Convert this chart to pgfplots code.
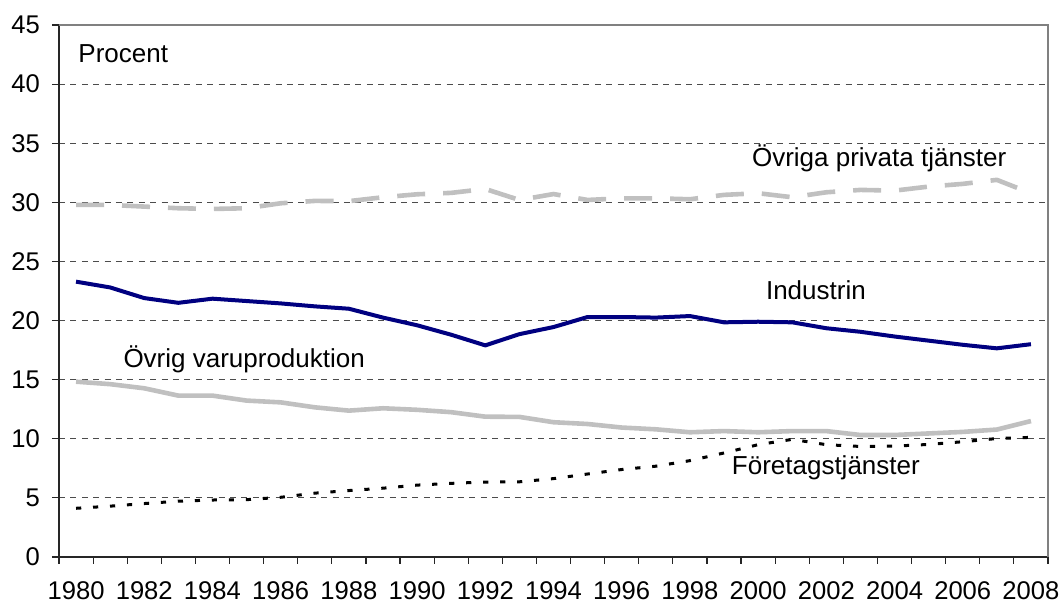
\documentclass[border=0pt]{standalone}
\usepackage{fontspec}
\setmainfont{Liberation Sans}
\usepackage{pgfplots}
\pgfplotsset{compat=1.18}
\definecolor{navyline}{RGB}{0,0,128}
\definecolor{lgray}{RGB}{192,192,192}
\begin{document}
\begin{tikzpicture}
\useasboundingbox (-29.5pt,-24pt) rectangle (501.5pt,278.5pt);
\begin{axis}[
  at={(0,0)}, anchor=south west,
  scale only axis, width=494.5pt, height=266pt,
  xmin=-0.5, xmax=28.5, ymin=0, ymax=45,
  axis lines*=left,
  axis line style={black!85, line width=0.7pt, -},
  tick align=outside,
  xtick={-0.5,0.5,...,28.5}, xticklabels={},
  major tick length=3.5pt,
  extra x ticks={0,2,...,28},
  extra x tick labels={1980,1982,1984,1986,1988,1990,1992,1994,1996,1998,2000,2002,2004,2006,2008},
  extra x tick style={major tick length=0pt, grid=none},
  ytick={0,5,...,45},
  ymajorgrids,
  grid style={black!70, line width=0.5pt, dash pattern=on 3pt off 2.7pt},
  tick style={black!85, line width=0.6pt},
  /pgf/number format/assume math mode=true,
  ticklabel style={font=\fontsize{12.8}{14}\selectfont},
  x tick label style={yshift=-9pt},
  y tick label style={xshift=-2.5pt},
  clip=false,
]
\draw[black!50, line width=0.6pt] (rel axis cs:0,1) -- (rel axis cs:1,1) -- (rel axis cs:1,0);
% Övriga privata tjänster
\addplot[lgray, line width=2.3pt, dash pattern=on 14pt off 9pt] coordinates {
(0,29.78)(1,29.78)(2,29.64)(3,29.5)(4,29.44)(5,29.5)(6,29.92)(7,30.12)(8,30.1)(9,30.43)
(10,30.68)(11,30.8)(12,31.13)(13,30.2)(14,30.7)(15,30.2)(16,30.34)(17,30.34)(18,30.26)(19,30.63)
(20,30.77)(21,30.43)(22,30.85)(23,31.05)(24,30.99)(25,31.33)(26,31.56)(27,31.9)(28,30.77)};
% Övrig varuproduktion
\addplot[lgray, line width=2.3pt, line join=round] coordinates {
(0,14.83)(1,14.62)(2,14.27)(3,13.65)(4,13.65)(5,13.23)(6,13.08)(7,12.66)(8,12.38)(9,12.58)
(10,12.45)(11,12.25)(12,11.87)(13,11.85)(14,11.4)(15,11.25)(16,10.95)(17,10.8)(18,10.55)(19,10.65)
(20,10.55)(21,10.65)(22,10.65)(23,10.32)(24,10.32)(25,10.45)(26,10.58)(27,10.78)(28,11.5)};
% Företagstjänster
\addplot[black, line width=1.5pt, dash pattern=on 2.6pt off 5.9pt] coordinates {
(0,4.12)(1,4.3)(2,4.52)(3,4.72)(4,4.82)(5,4.85)(6,5.05)(7,5.4)(8,5.62)(9,5.82)
(10,6.08)(11,6.23)(12,6.34)(13,6.36)(14,6.63)(15,7.02)(16,7.4)(17,7.68)(18,8.15)(19,8.8)
(20,9.5)(21,9.95)(22,9.5)(23,9.35)(24,9.38)(25,9.52)(26,9.75)(27,10.02)(28,10.12)};
% Industrin
\addplot[navyline, line width=2pt, line join=round] coordinates {
(0,23.29)(1,22.8)(2,21.9)(3,21.5)(4,21.85)(5,21.65)(6,21.45)(7,21.2)(8,21.0)(9,20.25)
(10,19.6)(11,18.8)(12,17.9)(13,18.85)(14,19.45)(15,20.3)(16,20.3)(17,20.25)(18,20.38)(19,19.85)
(20,19.9)(21,19.85)(22,19.35)(23,19.05)(24,18.65)(25,18.3)(26,17.95)(27,17.65)(28,18.0)};
\node[anchor=base west, inner sep=0pt, font=\fontsize{13}{15}\selectfont] at (axis cs:0.06,41.86) {Procent};
\node[anchor=base west, inner sep=0pt, font=\fontsize{13}{15}\selectfont] at (axis cs:19.81,33.02) {Övriga privata tjänster};
\node[anchor=base west, inner sep=0pt, font=\fontsize{13}{15}\selectfont] at (axis cs:20.22,21.74) {Industrin};
\node[anchor=base west, inner sep=0pt, font=\fontsize{13}{15}\selectfont] at (axis cs:1.38,16.0) {Övrig varuproduktion};
\node[anchor=base west, inner sep=0pt, font=\fontsize{13}{15}\selectfont] at (axis cs:19.22,6.94) {Företagstjänster};
\end{axis}
\end{tikzpicture}
\end{document}
